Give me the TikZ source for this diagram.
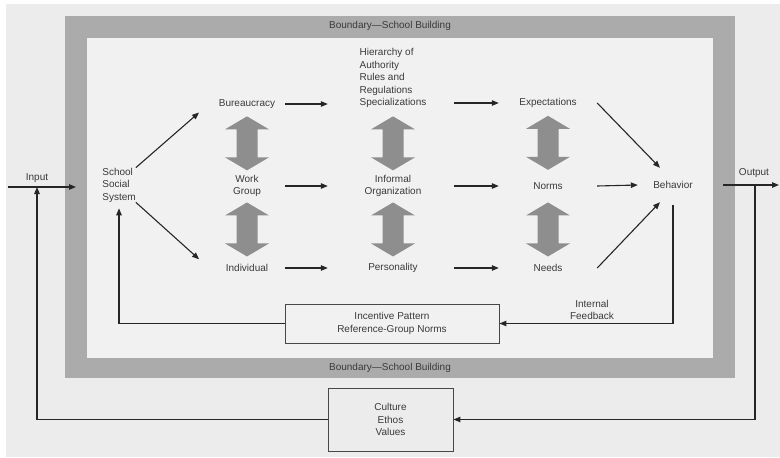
\documentclass[tikz,border=0pt]{standalone}
\usepackage{fontspec}
\setmainfont{Liberation Sans}
\usetikzlibrary{arrows.meta,calc}
\definecolor{paper}{HTML}{ECECEC}
\definecolor{innerfill}{HTML}{F1F1F1}
\definecolor{band}{HTML}{ABABAB}
\definecolor{fat}{HTML}{8E8E8E}
\definecolor{ink}{HTML}{262626}
\definecolor{txt}{HTML}{3A3A3A}
\begin{document}
\begin{tikzpicture}[x=1pt,y=-1pt,
  lbl/.style={inner sep=0pt, font=\fontsize{10}{12.5}\selectfont, text=txt, align=center},
  col1/.style={lbl, minimum width=76pt},
  col2/.style={lbl, minimum width=122pt},
  col3/.style={lbl, minimum width=98pt},
  box/.style={lbl, draw=ink!85, line width=0.9pt},
  arr/.style={draw=ink, line width=1.1pt, -{Triangle[length=7pt,width=5.5pt]}},
  updown/.pic={\fill[fat] (0,-27) -- (22,-14) -- (10.5,-14) -- (10.5,14) -- (22,14)
     -- (0,27) -- (-22,14) -- (-10.5,14) -- (-10.5,-14) -- (-22,-14) -- cycle;}
]
\useasboundingbox (0,0) rectangle (780,458);
% paper and the school-building boundary band
\fill[white] (0,0) rectangle (780,458);
\fill[paper] (6,4) rectangle (780,457);
\fill[band] (65,16) rectangle (735,378);
\fill[innerfill] (87,38) rectangle (713,358);
\node[lbl] (btop) at (390,26) {Boundary—School Building};
\node[lbl] (bbot) at (390,368) {Boundary—School Building};

% input side
\node[lbl] (inp) at (37,178) {Input};
\coordinate (inL) at (8,187);
\coordinate (inR) at (76,187);
\coordinate (inJ) at (37,187);
\node[lbl, align=left] (sss) at (119,185) {School\\Social\\System};

% nomothetic / idiographic columns
\node[col1] (bur) at (247,104) {Bureaucracy};
\node[col1] (wg)  at (247,186) {Work\\Group};
\node[col1] (ind) at (247,268) {Individual};

\node[col2, align=left] (hier) at (393,78) {Hierarchy of\\Authority\\Rules and\\Regulations\\Specializations};
\node[col2] (inf) at (393,186) {Informal\\Organization};
\node[col2] (per) at (393,268) {Personality};

\node[col3] (exp) at (548,103) {Expectations};
\node[col3] (nor) at (548,186) {Norms};
\node[col3] (nee) at (548,268) {Needs};

\node[lbl, minimum width=70pt, minimum height=34pt] (bhv) at (673,185) {Behavior};

% output side
\node[lbl] (out) at (754,173) {Output};
\coordinate (outL) at (723,185);
\coordinate (outR) at (779,185);
\coordinate (outJ) at (755,185);

% feedback boxes
\node[box, minimum width=214pt, minimum height=39pt] (inc) at (392,323.5) {Incentive Pattern\\Reference-Group Norms};
\node[lbl] (ifb) at (592,310) {Internal\\Feedback};
\node[box, minimum width=125pt, minimum height=63pt] (cul) at (390.5,419.5) {Culture\\Ethos\\Values};

% two-way interaction arrows
\path ($(bur.center)!0.48!(wg.center)$) pic{updown};
\path ($(wg.center)!0.53!(ind.center)$) pic{updown};
\path ($(hier.center |- bur.center)!0.48!(inf.center)$) pic{updown};
\path ($(inf.center)!0.53!(per.center)$) pic{updown};
\path ($(exp.center)!0.48!(nor.center)$) pic{updown};
\path ($(nor.center)!0.53!(nee.center)$) pic{updown};

% flow connectors
\draw[arr] (inL) -- (inR);
\draw[arr, shorten >=13pt] (sss.north east) -- (bur.west);
\draw[arr, shorten >=13pt] (sss.south east) -- (ind.west);

\draw[arr, shorten >=4pt] (bur.east) -- (bur.east -| hier.west);
\draw[arr, shorten >=4pt] (wg.east) -- (inf.west);
\draw[arr, shorten >=4pt] (ind.east) -- (per.west);

\draw[arr] (hier.east |- exp.west) -- (exp.west);
\draw[arr] (inf.east) -- (nor.west);
\draw[arr] (per.east) -- (nee.west);

\draw[arr] (exp.east) -- ([xshift=-13pt]bhv.north);
\draw[arr] (nor.east) -- (bhv.west);
\draw[arr] (nee.east) -- ([xshift=-13pt]bhv.south);

\draw[arr] (outL) -- (outR);

% feedback loops
\draw[arr, shorten <=3pt] (bhv.south) |- (inc.east);
\draw[arr, shorten >=6pt] (inc.west) -| (sss.south);
\draw[arr] (outJ) |- (cul.east);
\draw[arr] (cul.west) -| (inJ);
\end{tikzpicture}
\end{document}
